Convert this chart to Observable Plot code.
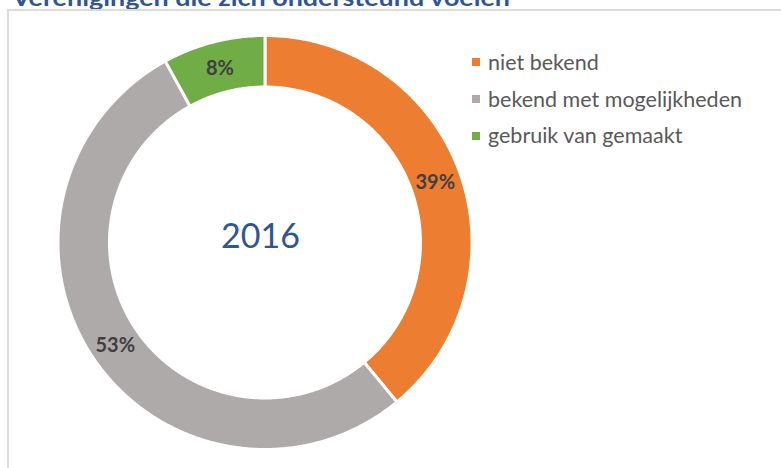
<!DOCTYPE html>
<html>
<head>
<meta charset="utf-8">
<script src="https://cdn.jsdelivr.net/npm/d3@7"></script>
<script src="https://cdn.jsdelivr.net/npm/@observablehq/plot@0.6"></script>
<style>
  html, body { margin: 0; padding: 0; background: #fff; }
  body { width: 781px; height: 468px; overflow: hidden; position: relative; font-family: Lato, "Open Sans", sans-serif; }
  #title { position: absolute; left: 12px; top: 0; width: 769px; height: 9px; overflow: hidden; }
  #title div { position: absolute; left: 0; top: -13.5px; font-size: 22px; line-height: 22px; font-weight: bold; color: #2F5597; white-space: nowrap; transform-origin: 0 0; }
  #frame { position: absolute; left: 7px; top: 9px; right: -5px; bottom: -5px; border-top: 2px solid #dcdcdc; border-left: 2px solid #dcdcdc; }
  #chart { position: absolute; left: 0; top: 0; }
  #legend { position: absolute; left: 472px; top: 44px; }
  #legend .row { display: flex; align-items: center; height: 36.7px; line-height: 36.7px; font-size: 21.5px; color: #595959; white-space: nowrap; }
  #legend .sw { width: 8px; height: 8px; margin-right: 8px; flex: none; }
</style>
</head>
<body>
<div id="title"></div>
<div id="frame"></div>
<div id="chart"></div>
<div id="legend"></div>
<script>
const titleText = "Verenigingen die zich ondersteund voelen";
const categories = ["niet bekend", "bekend met mogelijkheden", "gebruik van gemaakt"];
const values = [39, 53, 8];
const colors = ["#ED7D31", "#AEAAAA", "#70AD47"];
const valueLabels = ["39%", "53%", "8%"];
const centerLabel = ["2016"];

const t = document.createElement("div");
t.textContent = titleText;
document.querySelector("#title").appendChild(t);
const tw = t.getBoundingClientRect().width;
if (tw > 0) t.style.transform = `scaleX(${498 / tw})`;

// geometry in unit coordinates (outer radius = 1)
const innerR = 155.5 / 207;
const midR = 181 / 207;
const total = d3.sum(values);
let cum = 0;
const slices = categories.map((c, i) => {
  const a0 = cum / total * 2 * Math.PI;
  cum += values[i];
  const a1 = cum / total * 2 * Math.PI;
  return {cat: c, a0, a1, label: valueLabels[i]};
});
const pts = [];
for (const s of slices) {
  const n = Math.max(8, Math.ceil((s.a1 - s.a0) * 180 / Math.PI * 2));
  for (let k = 0; k <= n; k++) {
    const a = s.a0 + (s.a1 - s.a0) * k / n;
    pts.push({cat: s.cat, x: Math.sin(a), y: Math.cos(a)});
  }
  for (let k = n; k >= 0; k--) {
    const a = s.a0 + (s.a1 - s.a0) * k / n;
    pts.push({cat: s.cat, x: innerR * Math.sin(a), y: innerR * Math.cos(a)});
  }
}
const labels = slices.map(s => {
  const m = (s.a0 + s.a1) / 2;
  return {text: s.label, x: midR * Math.sin(m), y: midR * Math.cos(m)};
});

const cx = 264.5, cy = 242, R = 207;
const plot = Plot.plot({
  width: 781,
  height: 468,
  margin: 0,
  style: {fontFamily: "Lato, 'Open Sans', sans-serif", background: "transparent", overflow: "visible"},
  x: {domain: [-1, 1], range: [cx - R, cx + R], axis: null},
  y: {domain: [-1, 1], range: [cy + R, cy - R], axis: null},
  color: {domain: categories, range: colors},
  marks: [
    Plot.line(pts, {x: "x", y: "y", z: "cat", fill: "cat", stroke: "white", strokeWidth: 3, curve: "linear-closed"}),
    Plot.text(labels, {x: "x", y: "y", text: "text", fontWeight: "bold", fontSize: 20, fill: "#404040", dy: 1}),
    Plot.text(centerLabel, {x: () => 0, y: () => 0, text: d => d, fontSize: 34, fill: "#2F5597", dx: -4.5, dy: -5.6})
  ]
});
document.querySelector("#chart").appendChild(plot);

const leg = document.querySelector("#legend");
categories.forEach((c, i) => {
  const row = document.createElement("div");
  row.className = "row";
  const sw = document.createElement("span");
  sw.className = "sw";
  sw.style.background = colors[i];
  const tx = document.createElement("span");
  tx.textContent = c;
  row.appendChild(sw);
  row.appendChild(tx);
  leg.appendChild(row);
});
</script>
</body>
</html>
